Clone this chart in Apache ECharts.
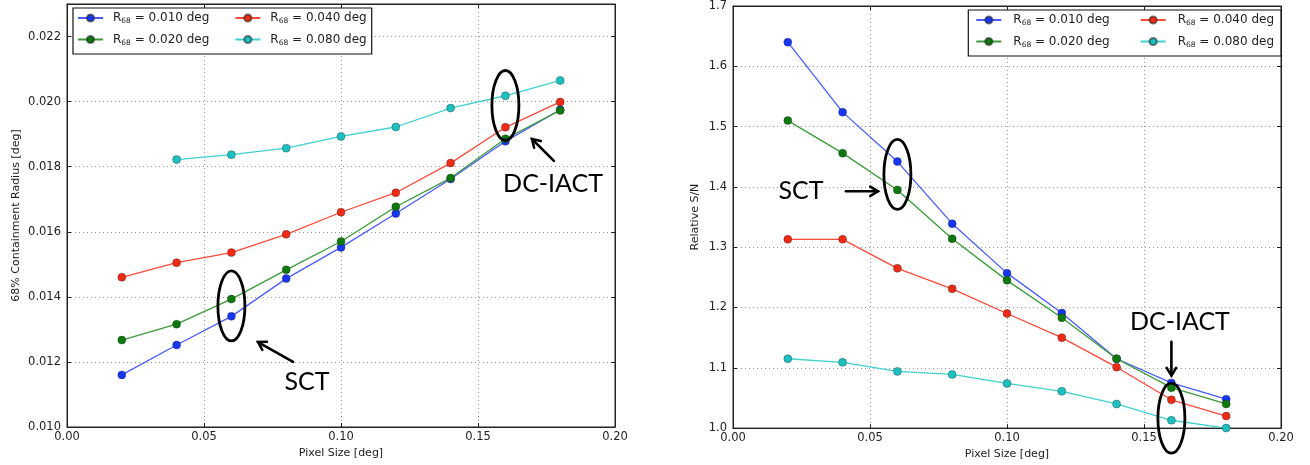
<!DOCTYPE html>
<html>
<head>
<meta charset="utf-8">
<script src="https://cdn.jsdelivr.net/npm/echarts@6/dist/echarts.min.js"></script>
<style>
html,body{margin:0;padding:0;background:#fff;}
#c{width:1310px;height:465px;}
</style>
</head>
<body>
<div id="c"></div>
<script>
// ---- data ----
const pixelSizes = [0.02, 0.04, 0.06, 0.08, 0.10, 0.12, 0.14, 0.16, 0.18];
const seriesNames = ['0.010', '0.020', '0.040', '0.080'];
// Left panel: 68% containment radius [deg]
const radiusR010 = [0.0116, 0.01252, 0.01340, 0.01456, 0.01552, 0.01656, 0.01762, 0.01878, 0.01975];
const radiusR020 = [0.01267, 0.01316, 0.01393, 0.01483, 0.0157, 0.01677, 0.01765, 0.01886, 0.01973];
const radiusR040 = [0.01460, 0.01505, 0.01536, 0.01592, 0.0166, 0.0172, 0.01811, 0.01921, 0.01999];
const radiusR080 = [null, 0.01822, 0.01837, 0.01857, 0.01893, 0.01922, 0.0198, 0.02018, 0.02065];
// Right panel: relative S/N
const snR010 = [1.640, 1.524, 1.442, 1.339, 1.257, 1.191, 1.115, 1.075, 1.048];
const snR020 = [1.510, 1.456, 1.395, 1.314, 1.245, 1.183, 1.115, 1.067, 1.040];
const snR040 = [1.313, 1.313, 1.265, 1.231, 1.190, 1.150, 1.101, 1.047, 1.020];
const snR080 = [1.115, 1.109, 1.094, 1.089, 1.074, 1.061, 1.040, 1.013, 1.000];
// tick labels
const xTicks = [0.00, 0.05, 0.10, 0.15, 0.20];
const leftYTicks = [0.010, 0.012, 0.014, 0.016, 0.018, 0.020, 0.022];
const rightYTicks = [1.0, 1.1, 1.2, 1.3, 1.4, 1.5, 1.6, 1.7];
// annotations (data coordinates): ellipse centre, arrow tail, arrow head, text position
const annotations = [
  {grid: 0, label: 'SCT', ell: [0.06, 0.01372], tail: [0.0825, 0.0120], head: [0.0697, 0.01261], text: [0.0876, 0.01138]},
  {grid: 0, label: 'DC-IACT', ell: [0.16, 0.01988], tail: [0.1777, 0.01818], head: [0.1697, 0.01885], text: [0.1774, 0.01747]},
  {grid: 1, label: 'SCT', ell: [0.06, 1.4207], tail: [0.0412, 1.3927], head: [0.0529, 1.3927], text: [0.0248, 1.394]},
  {grid: 1, label: 'DC-IACT', ell: [0.16, 1.0164], tail: [0.16, 1.143], head: [0.16, 1.0871], text: [0.1631, 1.1758]}
];

// ---- styles ----
const markerColors = ['#1536f5', '#0b7a0b', '#f02a14', '#1cc0c0'];
const lineColors = ['#4a5cff', '#3a9a3a', '#ff4a3a', '#40d0d0'];
const FONT = 'DejaVu Sans';

function pairs(vals) {
  const out = [];
  vals.forEach((v, i) => { if (v !== null) out.push([pixelSizes[i], v]); });
  return out;
}

function legendName(n) { return 'R68 = ' + n + ' deg'; }

function mkSeries(vals, idx, axisIdx) {
  return {
    name: legendName(seriesNames[idx]),
    type: 'line',
    xAxisIndex: axisIdx,
    yAxisIndex: axisIdx,
    data: pairs(vals),
    symbol: 'circle',
    symbolSize: 8,
    showSymbol: true,
    animation: false,
    lineStyle: {color: lineColors[idx], width: 1.3},
    itemStyle: {color: markerColors[idx], borderColor: 'rgba(40,40,40,0.6)', borderWidth: 0.6},
    emphasis: {disabled: true},
    z: 2 + idx
  };
}

function legendCfg(pos, gapW, padW, pad) {
  const cfg = Object.assign({
    orient: 'horizontal',
    width: 320,
    itemWidth: 25,
    itemHeight: 9,
    itemGap: 8,
    padding: pad,
    backgroundColor: '#fff',
    borderColor: '#111',
    borderWidth: 1.2,
    borderRadius: 0,
    data: [legendName('0.010'), legendName('0.040'), legendName('0.020'), legendName('0.080')],
    formatter: function (name) {
      const v = name.split('= ')[1];
      const firstCol = (v.indexOf('0.010') === 0 || v.indexOf('0.020') === 0);
      return '{g| }{r|R}{s|68}{r| = ' + v + '}' + (firstCol ? '{p| }' : '');
    },
    textStyle: {
      fontFamily: FONT, fontSize: 12, color: '#222',
      rich: {
        g: {width: gapW, fontSize: 12, lineHeight: 15},
        r: {fontFamily: FONT, fontSize: 12, color: '#222', lineHeight: 15, verticalAlign: 'middle'},
        s: {fontFamily: FONT, fontSize: 7.5, color: '#222', verticalAlign: 'bottom', lineHeight: 15, padding: [5, 0, 0, 0]},
        p: {width: padW, fontSize: 12, lineHeight: 15}
      }
    },
    selectedMode: false
  }, pos);
  return cfg;
}

function xAxisCfg(gridIndex, pos, showLabel) {
  return {
    type: 'value', gridIndex: gridIndex, position: pos,
    min: 0, max: 0.2, interval: 0.05,
    name: showLabel ? 'Pixel Size [deg]' : '',
    nameLocation: 'middle', nameGap: 18,
    nameTextStyle: {fontFamily: FONT, fontSize: 11, color: '#222'},
    axisLine: {show: true, onZero: false, lineStyle: {color: '#222', width: 1}},
    axisTick: {show: true, inside: true, length: 4, lineStyle: {color: '#222'}},
    axisLabel: {show: showLabel, fontFamily: FONT, fontSize: 11.5, color: '#222', margin: 4,
      formatter: v => v.toFixed(2)},
    splitLine: {show: showLabel, lineStyle: {color: '#9a9a9a', type: [1, 3], width: 1}}
  };
}

function yAxisCfg(gridIndex, pos, showLabel, min, max, interval, dec, name, gap) {
  return {
    type: 'value', gridIndex: gridIndex, position: pos,
    min: min, max: max, interval: interval,
    name: showLabel ? name : '',
    nameLocation: 'middle', nameGap: gap,
    nameTextStyle: {fontFamily: FONT, fontSize: 11, color: '#222'},
    axisLine: {show: true, onZero: false, lineStyle: {color: '#222', width: 1}},
    axisTick: {show: true, inside: true, length: 4, lineStyle: {color: '#222'}},
    axisLabel: {show: showLabel, fontFamily: FONT, fontSize: 11.5, color: '#222', margin: 6,
      showMaxLabel: dec === 1, formatter: v => v.toFixed(dec)},
    splitLine: {show: showLabel, lineStyle: {color: '#9a9a9a', type: [1, 3], width: 1}}
  };
}

const chart = echarts.init(document.getElementById('c'), null, {renderer: 'canvas'});
const option = {
  backgroundColor: '#fff',
  animation: false,
  grid: [
    {left: 67, top: 4, width: 548, height: 423, show: true, borderColor: '#222', borderWidth: 1, backgroundColor: 'transparent'},
    {left: 733, top: 4, width: 548, height: 426, show: true, borderColor: '#222', borderWidth: 1, backgroundColor: 'transparent'}
  ],
  legend: [
    legendCfg({left: 73, top: 8}, 5, 17, [4, 5, 7, 4]),
    legendCfg({right: 29, top: 10}, 7, 22, [4, 7, 7, 7])
  ],
  xAxis: [
    xAxisCfg(0, 'bottom', true), xAxisCfg(1, 'bottom', true),
    xAxisCfg(0, 'top', false), xAxisCfg(1, 'top', false)
  ],
  yAxis: [
    yAxisCfg(0, 'left', true, 0.010, 0.023, 0.002, 3, '68% Containment Radius [deg]', 45),
    yAxisCfg(1, 'left', true, 1.0, 1.7, 0.1, 1, 'Relative S/N', 32),
    yAxisCfg(0, 'right', false, 0.010, 0.023, 0.002, 3, '', 0),
    yAxisCfg(1, 'right', false, 1.0, 1.7, 0.1, 1, '', 0)
  ],
  series: [
    mkSeries(radiusR010, 0, 0), mkSeries(radiusR020, 1, 0), mkSeries(radiusR040, 2, 0), mkSeries(radiusR080, 3, 0),
    mkSeries(snR010, 0, 1), mkSeries(snR020, 1, 1), mkSeries(snR040, 2, 1), mkSeries(snR080, 3, 1)
  ]
};
chart.setOption(option);

// ---- annotations positioned through the axes ----
function px(g, p) { return chart.convertToPixel({gridIndex: g}, p); }
const graphics = [];
annotations.forEach(a => {
  const e = px(a.grid, a.ell);
  graphics.push({type: 'ellipse', shape: {cx: e[0], cy: e[1], rx: 13.5, ry: 35},
    style: {fill: 'none', stroke: '#000', lineWidth: 2.8}, z: 50, silent: true});
  const t = px(a.grid, a.tail), h = px(a.grid, a.head);
  graphics.push({type: 'line', shape: {x1: t[0], y1: t[1], x2: h[0], y2: h[1]},
    style: {stroke: '#000', lineWidth: 2.6, lineCap: 'round'}, z: 50, silent: true});
  const ang = Math.atan2(h[1] - t[1], h[0] - t[0]);
  const L = 9, w = 0.55;
  const p1 = [h[0] - L * Math.cos(ang - w), h[1] - L * Math.sin(ang - w)];
  const p2 = [h[0] - L * Math.cos(ang + w), h[1] - L * Math.sin(ang + w)];
  graphics.push({type: 'polyline', shape: {points: [p1, h, p2]},
    style: {stroke: '#000', lineWidth: 2.6, fill: 'none', lineCap: 'round', lineJoin: 'miter'}, z: 50, silent: true});
  const tp = px(a.grid, a.text);
  graphics.push({type: 'text', x: tp[0], y: tp[1],
    style: {text: a.label, fontFamily: 'Lato', fontSize: 25, fill: '#000', align: 'center', verticalAlign: 'middle'},
    z: 50, silent: true});
});
chart.setOption({graphic: graphics});
</script>
</body>
</html>
